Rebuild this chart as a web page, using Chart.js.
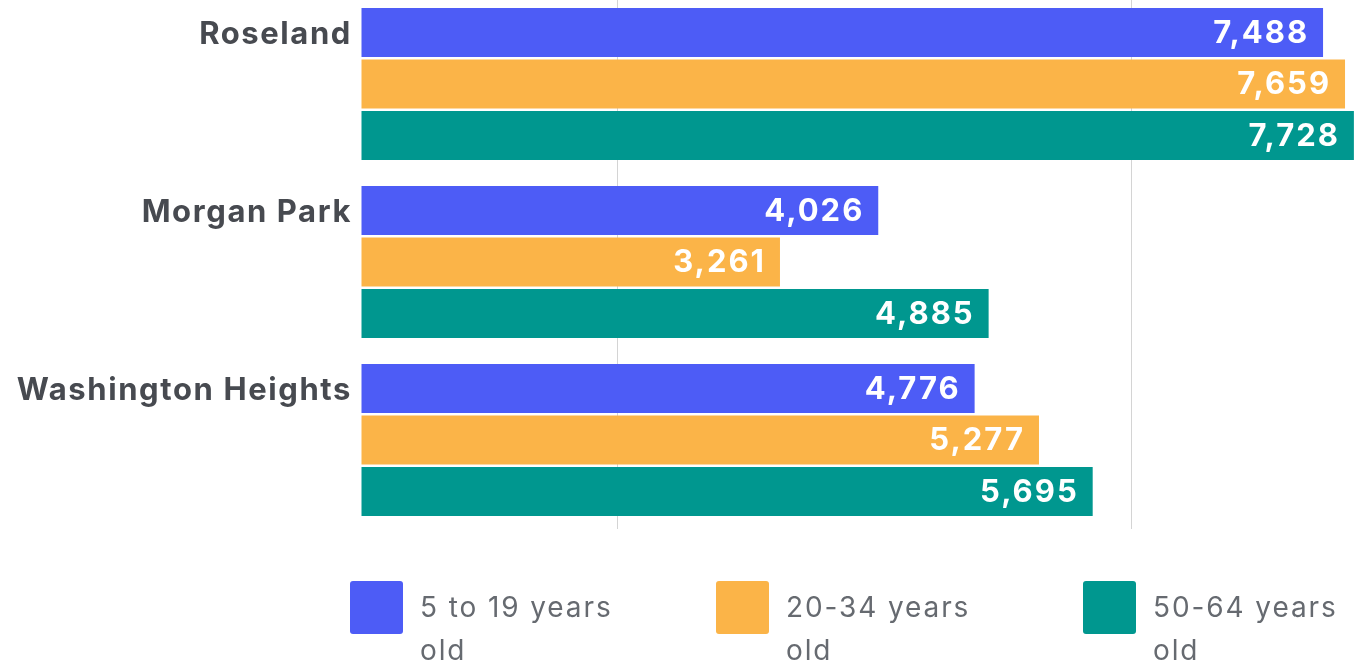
<!DOCTYPE html>
<html>
<head>
<meta charset="utf-8">
<script src="https://cdn.jsdelivr.net/npm/chart.js@4/dist/chart.umd.min.js"></script>
<style>
  html, body { margin: 0; padding: 0; background: #ffffff; }
  #wrap { position: relative; width: 1359px; height: 671px; overflow: hidden; }
  #c { position: absolute; left: 0; top: -5px; }
  .lg { position: absolute; top: 581px; font-family: Inter, "Noto Sans", sans-serif; font-size: 28px;
        letter-spacing: 1.9px; color: #666a70; line-height: 43px; }
  .lg .box { position: absolute; left: 0; top: 0; width: 53px; height: 53px; border-radius: 3px; }
  .lg .txt { position: absolute; left: 70px; top: 5px; white-space: nowrap; }
</style>
</head>
<body>
<div id="wrap">
  <canvas id="c" width="1359" height="676"></canvas>
  <div id="legend"></div>
</div>
<script>
const categories = ["Roseland", "Morgan Park", "Washington Heights"];
const seriesNames = [["5 to 19 years", "old"], ["20-34 years", "old"], ["50-64 years", "old"]];
const ages5to19 = [7488, 4026, 4776];
const ages20to34 = [7659, 3261, 5277];
const ages50to64 = [7728, 4885, 5695];
const gridTicks = [0, 2000, 4000, 6000];
const visibleGrid = [2000, 6000];
const colors = ["#4d5cf6", "#fbb448", "#00978f"];
const legendLeft = [350, 716, 1083];

const valueFmt = v => v.toLocaleString("en-US");

const spacingPlugin = {
  id: "spacing",
  beforeDraw(chart) { chart.ctx.save(); chart.ctx.letterSpacing = "1.6px"; },
  afterDraw(chart) { chart.ctx.restore(); }
};

const labelPlugin = {
  id: "barLabels",
  afterDatasetsDraw(chart) {
    const ctx = chart.ctx;
    const area = chart.chartArea;
    ctx.save();
    ctx.letterSpacing = "2px";
    ctx.font = "700 31px Inter, 'Noto Sans', sans-serif";
    ctx.fillStyle = "#ffffff";
    ctx.textAlign = "right";
    ctx.textBaseline = "middle";
    chart.data.datasets.forEach((ds, di) => {
      const meta = chart.getDatasetMeta(di);
      meta.data.forEach((el, i) => {
        const x = Math.min(el.x - 14, area.right - 6);
        ctx.fillText(valueFmt(ds.data[i]), x, el.y + 1);
      });
    });
    ctx.restore();
  }
};

const datasets = [ages5to19, ages20to34, ages50to64].map((d, i) => ({
  label: seriesNames[i].join(" "),
  data: d,
  backgroundColor: colors[i],
  borderWidth: 0,
  categoryPercentage: 0.868,
  barPercentage: 0.951
}));

new Chart(document.getElementById("c"), {
  type: "bar",
  data: { labels: categories, datasets },
  options: {
    indexAxis: "y",
    responsive: false,
    animation: false,
    layout: { padding: { top: 0, right: 1, bottom: 142, left: 0 } },
    plugins: { legend: { display: false }, tooltip: { enabled: false } },
    scales: {
      x: {
        min: 0, max: 7760,
        afterBuildTicks: s => { s.ticks = gridTicks.map(v => ({ value: v })); },
        ticks: { display: false },
        border: { display: false },
        grid: {
          drawTicks: false,
          lineWidth: 1,
          color: c => (c.tick && visibleGrid.includes(c.tick.value)) ? "#d4d4d4" : "rgba(0,0,0,0)"
        }
      },
      y: {
        afterFit: s => { s.width = 361; s.paddingTop = 0; s.paddingBottom = 0; },
        border: { display: false },
        grid: { display: false, drawTicks: false },
        ticks: {
          padding: 9,
          labelOffset: -49,
          color: "#474a50",
          font: { family: "Inter, 'Noto Sans', sans-serif", size: 31, weight: "700" }
        }
      }
    }
  },
  plugins: [spacingPlugin, labelPlugin]
});

const lg = document.getElementById("legend");
seriesNames.forEach((lines, i) => {
  const item = document.createElement("div");
  item.className = "lg";
  item.style.left = legendLeft[i] + "px";
  const box = document.createElement("div");
  box.className = "box";
  box.style.background = colors[i];
  const txt = document.createElement("div");
  txt.className = "txt";
  txt.innerHTML = lines.join("<br>");
  item.appendChild(box);
  item.appendChild(txt);
  lg.appendChild(item);
});
</script>
</body>
</html>
